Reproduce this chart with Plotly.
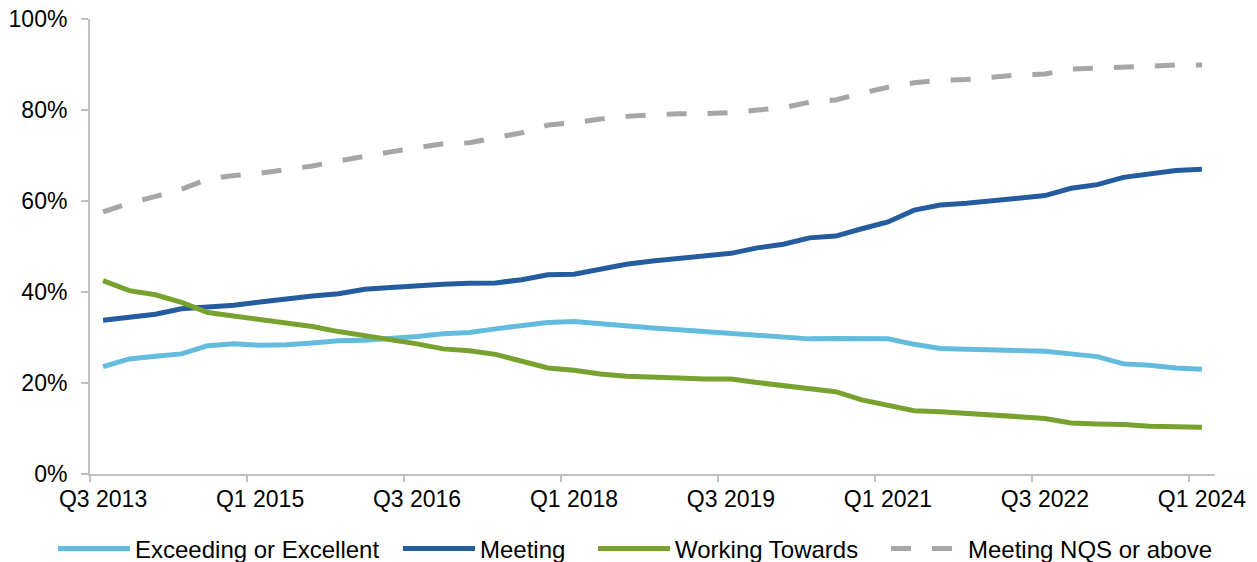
import plotly.graph_objects as go

quarters = ["Q3 2013", "Q4 2013"] + [f"Q{q} {y}" for y in range(2014, 2024) for q in range(1, 5)] + ["Q1 2024"]

exceeding = [23.6, 25.3, 25.9, 26.4, 28.2, 28.6, 28.3, 28.4, 28.8, 29.3, 29.4, 29.7, 30.2, 30.8,
             31.1, 31.9, 32.6, 33.3, 33.5, 33.0, 32.4, 32.1, 31.7, 31.3, 30.8, 30.3, 30.0, 29.7,
             29.8, 29.8, 29.7, 28.5, 27.6, 27.4, 27.2, 27.2, 27.0, 26.4, 25.8, 24.2, 23.9, 23.3, 23.0]
meeting = [33.8, 34.5, 35.1, 36.3, 36.6, 37.1, 37.8, 38.5, 39.1, 39.6, 40.6, 41.0, 41.4, 41.7,
           41.9, 42.0, 42.7, 43.8, 43.9, 44.9, 46.1, 46.8, 47.4, 47.9, 48.5, 49.7, 50.5, 51.9,
           52.3, 53.9, 55.4, 58.0, 59.1, 59.5, 60.0, 60.5, 61.2, 62.8, 63.6, 65.2, 66.0, 66.7, 67.0]
working = [42.5, 40.3, 39.4, 37.7, 35.5, 34.7, 34.1, 33.3, 32.4, 31.3, 30.4, 29.7, 28.6, 27.5,
           27.1, 26.3, 24.9, 23.3, 22.8, 22.0, 21.5, 21.2, 21.1, 20.9, 20.9, 20.1, 19.5, 18.7,
           18.1, 16.3, 15.1, 13.9, 13.7, 13.4, 13.1, 12.6, 12.2, 11.2, 11.0, 10.9, 10.5, 10.3, 10.3]
nqs_or_above = [57.6, 59.5, 61.0, 62.6, 64.8, 65.6, 66.1, 66.8, 67.7, 68.8, 69.9, 70.8, 71.7, 72.6,
                72.8, 73.8, 75.0, 76.7, 77.2, 78.0, 78.6, 78.9, 79.2, 79.2, 79.4, 80.0, 80.5, 81.7,
                82.2, 83.7, 85.0, 86.0, 86.5, 86.7, 87.2, 87.7, 87.9, 89.0, 89.2, 89.3, 89.6, 89.9, 89.9]

y_ticks = [0, 20, 40, 60, 80, 100]
y_tick_labels = [f"{v}%" for v in y_ticks]
label_step = 6

idx = list(range(len(quarters)))
label_idx = idx[::label_step]

FONT = "Liberation Sans, Arial, sans-serif"
AXIS_COL = "#C0C0C0"

# the page has an 8px body margin: figure coordinates = page coordinates - 8
OFF = 8
W, H = 1257, 562
ML, MT = 90 - OFF, 19 - OFF
MR = W - (1215 - OFF)
MB = H - (474 - OFF)
PW = W - ML - MR
PH = H - MT - MB
LEG_Y = 549 - OFF

series = [
    ("Exceeding or Excellent", exceeding, "#63BCDE", "solid", 60),
    ("Meeting", meeting, "#245C9F", "solid", 405),
    ("Working Towards", working, "#78A22F", "solid", 600),
    ("Meeting NQS or above", nqs_or_above, "#A6A6A6", "20px,21px", 893),
]

fig = go.Figure()
legend_layout = {}
for k, (name, vals, col, dash, lx) in enumerate(series):
    lname = "legend" if k == 0 else f"legend{k + 1}"
    fig.add_trace(go.Scatter(x=idx, y=vals, name=name, mode="lines",
                             line=dict(color=col, width=5, dash=dash),
                             hoverinfo="skip", legend=lname))
    legend_layout[lname] = dict(
        orientation="h", x=(lx - OFF - 7 - ML) / PW, xanchor="left",
        y=-(LEG_Y - MT - PH) / PH, yanchor="middle",
        font=dict(family=FONT, size=24, color="#000000"),
        itemwidth=72, bgcolor="rgba(0,0,0,0)", borderwidth=0,
    )

fig.update_layout(
    width=W, height=H,
    margin=dict(l=ML, r=MR, t=MT, b=MB, autoexpand=False),
    paper_bgcolor="white", plot_bgcolor="white",
    font=dict(family=FONT, size=23, color="#000000"),
    showlegend=True,
    **legend_layout,
)
fig.update_xaxes(
    range=[-0.5, len(quarters) - 0.5], automargin=False,
    tickmode="array", tickvals=label_idx, ticktext=[quarters[i] for i in label_idx],
    ticks="", showgrid=False, zeroline=False,
    showline=True, linecolor=AXIS_COL, linewidth=2,
    ticklabelstandoff=3, ticklabeloverflow="allow",
    tickfont=dict(family=FONT, size=23, color="#000000"),
    minor=dict(tickmode="array", tickvals=[i - 0.5 for i in label_idx],
               ticks="outside", ticklen=6, tickwidth=2, tickcolor=AXIS_COL, showgrid=False),
)
fig.update_yaxes(
    range=[0, 100], automargin=False,
    tickmode="array", tickvals=y_ticks, ticktext=y_tick_labels,
    ticks="outside", ticklen=7, tickwidth=2, tickcolor=AXIS_COL,
    showgrid=False, zeroline=False,
    showline=True, linecolor=AXIS_COL, linewidth=2,
    ticklabelstandoff=9, ticklabeloverflow="allow",
    tickfont=dict(family=FONT, size=23, color="#000000"),
)

fig.write_html("out.html")
